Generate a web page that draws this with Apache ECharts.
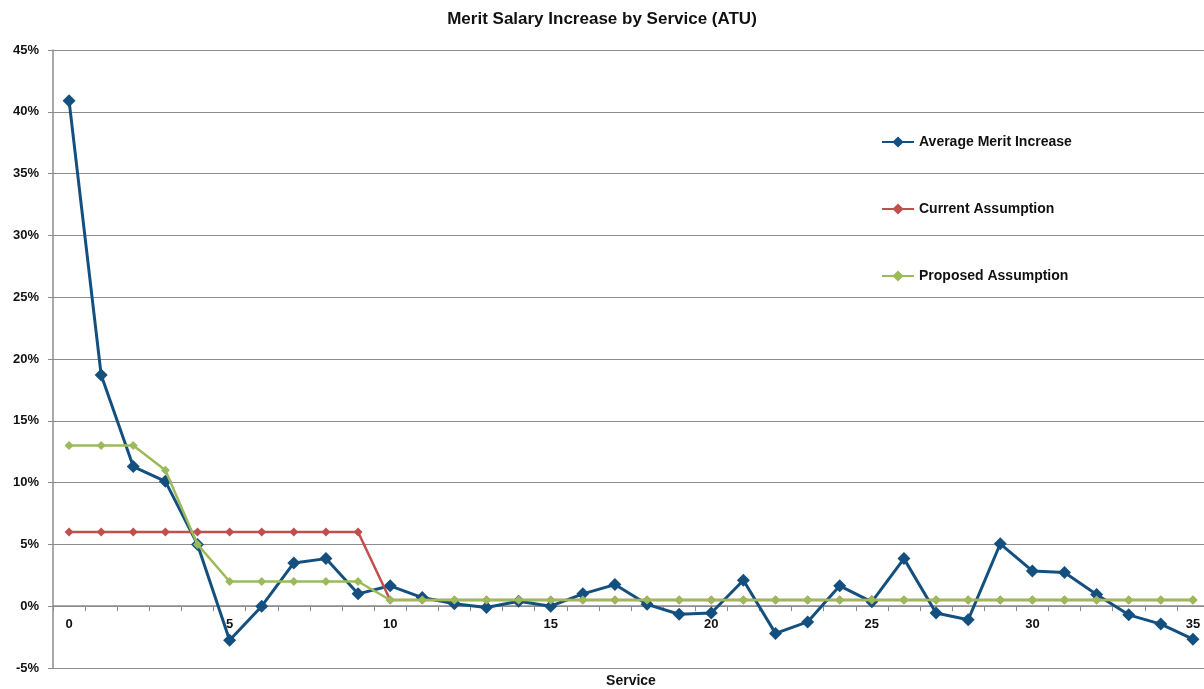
<!DOCTYPE html>
<html>
<head>
<meta charset="utf-8">
<script src="https://cdn.jsdelivr.net/npm/echarts@6/dist/echarts.min.js"></script>
<style>
  html, body { margin: 0; padding: 0; background: #ffffff; }
  #chart { width: 1204px; height: 689px; }
</style>
</head>
<body>
<div id="chart"></div>
<script>
// years of service 0..35
const service = Array.from({ length: 36 }, (_, i) => String(i))

const avgMerit = [
  40.9, 18.7, 11.3, 10.1, 5.0, -2.75, 0.0, 3.5, 3.85, 1.0,
  1.65, 0.7, 0.2, -0.1, 0.4, 0.0, 1.0, 1.75, 0.15, -0.65,
  -0.55, 2.1, -2.2, -1.27, 1.65, 0.35, 3.85, -0.55, -1.1, 5.05,
  2.85, 2.72, 0.95, -0.7, -1.45, -2.67
]
const currentAssumption = [
  6, 6, 6, 6, 6, 6, 6, 6, 6, 6,
  0.5, 0.5, 0.5, 0.5, 0.5, 0.5, 0.5, 0.5, 0.5, 0.5,
  0.5, 0.5, 0.5, 0.5, 0.5, 0.5, 0.5, 0.5, 0.5, 0.5,
  0.5, 0.5, 0.5, 0.5, 0.5, 0.5
]
const proposedAssumption = [
  13, 13, 13, 11, 5, 2, 2, 2, 2, 2,
  0.5, 0.5, 0.5, 0.5, 0.5, 0.5, 0.5, 0.5, 0.5, 0.5,
  0.5, 0.5, 0.5, 0.5, 0.5, 0.5, 0.5, 0.5, 0.5, 0.5,
  0.5, 0.5, 0.5, 0.5, 0.5, 0.5
]

const chart = echarts.init(document.getElementById('chart'))
const font = '"Liberation Sans", Arial, sans-serif'

const option = {
  backgroundColor: '#ffffff',
  animation: false,
  title: {
    text: 'Merit Salary Increase by Service (ATU)',
    left: 'center',
    top: 6,
    textStyle: { fontFamily: font, fontSize: 17, fontWeight: 'bold', color: '#111' }
  },
  legend: {
    orient: 'vertical',
    left: 876,
    top: 130,
    itemGap: 53,
    itemWidth: 32,
    itemHeight: 14,
    textStyle: { fontFamily: font, fontSize: 14, fontWeight: 'bold', color: '#111' },
    data: ['Average Merit Increase', 'Current Assumption', 'Proposed Assumption']
  },
  grid: { left: 53, top: 50, width: 1156, height: 618, outerBoundsMode: 'none' },
  xAxis: {
    type: 'category',
    data: service,
    boundaryGap: true,
    position: 'bottom',
    // the axis crosses at 0%, which sits 1/10 of the plot height above the bottom
    offset: -61.8,
    name: 'Service',
    nameLocation: 'middle',
    nameGap: 68,
    nameTextStyle: { fontFamily: font, fontSize: 14, fontWeight: 'bold', color: '#111' },
    axisLine: { onZero: false, lineStyle: { color: '#8c8c8c', width: 1.5 } },
    axisTick: { show: true, interval: 0, length: 5, lineStyle: { color: '#8c8c8c' } },
    axisLabel: {
      interval: 4,
      margin: 12,
      fontFamily: font, fontSize: 13, fontWeight: 'bold', color: '#111'
    },
    splitLine: { show: false }
  },
  yAxis: {
    type: 'value',
    min: -5,
    max: 45,
    interval: 5,
    axisLine: { show: true, lineStyle: { color: '#8c8c8c', width: 1.5 } },
    axisTick: { show: true, length: 5, lineStyle: { color: '#8c8c8c' } },
    axisLabel: {
      formatter: '{value}%',
      margin: 14,
      fontFamily: font, fontSize: 13, fontWeight: 'bold', color: '#111'
    },
    splitLine: { lineStyle: { color: '#8c8c8c', width: 1.2 } }
  },
  series: [
    {
      name: 'Average Merit Increase',
      type: 'line',
      data: avgMerit,
      symbol: 'diamond',
      symbolSize: 13,
      lineStyle: { color: '#13507F', width: 3 },
      itemStyle: { color: '#13507F' },
      z: 2
    },
    {
      name: 'Current Assumption',
      type: 'line',
      data: currentAssumption,
      symbol: 'diamond',
      symbolSize: 9,
      lineStyle: { color: '#C0504D', width: 2.5 },
      itemStyle: { color: '#C0504D' },
      z: 3
    },
    {
      name: 'Proposed Assumption',
      type: 'line',
      data: proposedAssumption,
      symbol: 'diamond',
      symbolSize: 9,
      lineStyle: { color: '#9BBB59', width: 2.5 },
      itemStyle: { color: '#9BBB59' },
      z: 4
    }
  ]
}

chart.setOption(option)
</script>
</body>
</html>
